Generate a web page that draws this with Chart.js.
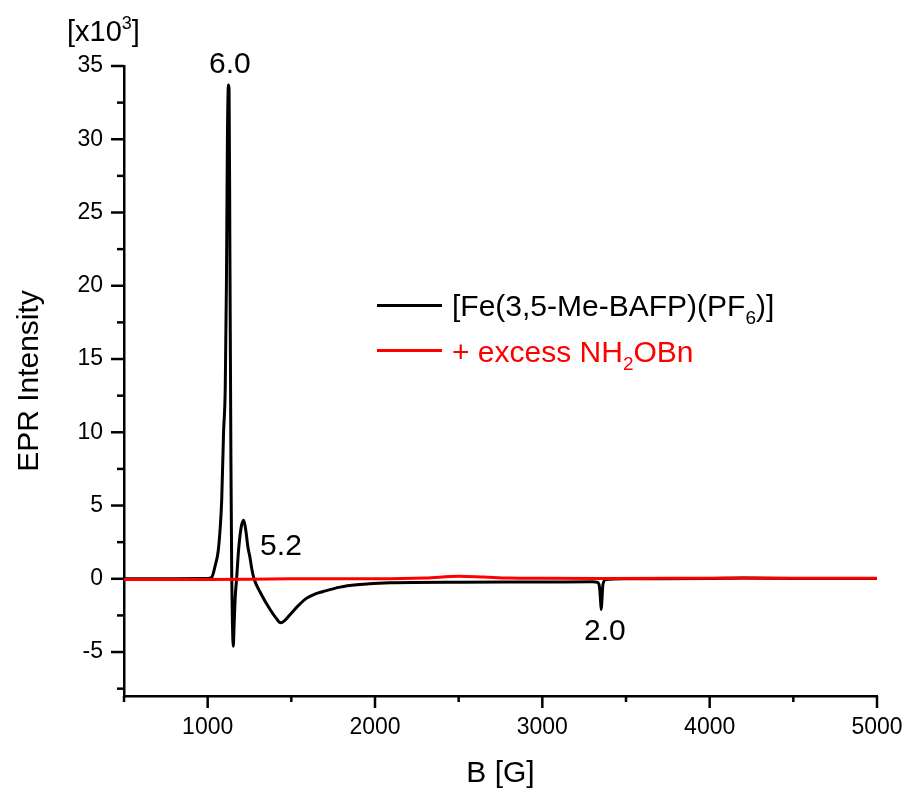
<!DOCTYPE html>
<html>
<head>
<meta charset="utf-8">
<script src="https://cdn.jsdelivr.net/npm/chart.js@4/dist/chart.umd.min.js"></script>
<style>
  html, body { margin: 0; padding: 0; background: #fff; }
  #wrap { position: relative; width: 909px; height: 792px; font-family: "Liberation Sans", Arial, sans-serif; }
  canvas { position: absolute; left: 0; top: 0; }
  .txt { position: absolute; white-space: nowrap; line-height: 1; }
  .swatch { position: absolute; height: 3px; }
</style>
</head>
<body>
<div id="wrap">
  <canvas id="c" width="909" height="792"></canvas>
  <div class="txt" style="left:67px; top:17px; font-size:29px; color:#000;">[x10<span style="font-size:18px; position:relative; top:-12px;">3</span>]</div>
  <div class="swatch" style="left:377px; top:304px; width:65px; background:#000;"></div>
  <div class="txt" style="left:452px; top:291px; font-size:30px; color:#000;">[Fe(3,5-Me-BAFP)(PF<span style="font-size:19px; position:relative; top:8px;">6</span>)]</div>
  <div class="swatch" style="left:377px; top:349px; width:65px; background:#ff0000;"></div>
  <div class="txt" style="left:452px; top:337px; font-size:30px; color:#ff0000;">+ excess NH<span style="font-size:19px; position:relative; top:8px;">2</span>OBn</div>
</div>
<script>
// ---- data (B in G, intensity in x10^3) ----
const blackB = [500, 800, 1000, 1024, 1045, 1063, 1075, 1084, 1095, 1105, 1112, 1118, 1124, 1128, 1133, 1139, 1144, 1148, 1153, 1158, 1165, 1173, 1185, 1200, 1215, 1228, 1240, 1252, 1265, 1277, 1313, 1373, 1410, 1436, 1460, 1492, 1540, 1592, 1640, 1691, 1791, 1891, 2090, 2500, 3000, 3300, 3330, 3342, 3348, 3352, 3356, 3362, 3380, 3500, 4000, 4200, 4500, 5000];
const blackI = [0, 0, 0.02, 0.1, 0.9, 1.9, 3.5, 5.4, 10, 13, 20, 30, 33.7, 33.4, 22, 8, 0, -3, -4.6, -3.2, -1.2, 0, 2, 3.5, 4.0, 3.3, 2.2, 1.5, 0.6, 0, -0.9, -2.1, -2.7, -3.0, -2.85, -2.45, -1.85, -1.32, -1.05, -0.87, -0.57, -0.41, -0.27, -0.23, -0.22, -0.2, -0.25, -0.6, -1.5, -2.1, -1.5, -0.4, -0.05, 0, 0.02, 0.05, 0.02, 0.02];
const redB = [500, 1000, 1500, 2000, 2300, 2500, 2650, 2800, 3000, 3350, 3800, 4200, 4600, 5000];
const redI = [-0.05, -0.05, 0, 0, 0.05, 0.18, 0.12, 0.05, 0.03, 0.02, 0.03, 0.05, 0.03, 0.03];
const seriesNames = ['[Fe(3,5-Me-BAFP)(PF6)]', '+ excess NH2OBn'];
const xTickValues = [500, 1000, 1500, 2000, 2500, 3000, 3500, 4000, 4500, 5000];
const xTickLabels = ['', '1000', '', '2000', '', '3000', '', '4000', '', '5000'];
const yTickValues = [-7.5, -5, -2.5, 0, 2.5, 5, 7.5, 10, 12.5, 15, 17.5, 20, 22.5, 25, 27.5, 30, 32.5, 35];
const yTickLabels = ['', '-5', '', '0', '', '5', '', '10', '', '15', '', '20', '', '25', '', '30', '', '35'];
const peakLabels = ['6.0', '5.2', '2.0'];
const peakB = [1133, 1438, 3374];
const peakI = [34.5, 1.65, -4.15];

const FONT = '"Liberation Sans", Arial, sans-serif';

const tickMarks = {
  id: 'tickMarks',
  afterDraw(chart) {
    const ctx = chart.ctx, a = chart.chartArea;
    ctx.save();
    ctx.strokeStyle = '#000';
    ctx.lineWidth = 2.5;
    const xs = chart.scales.x, ys = chart.scales.y;
    xTickValues.forEach((v, i) => {
      const p = xs.getPixelForValue(v);
      const len = xTickLabels[i] ? 12 : 6;
      ctx.beginPath(); ctx.moveTo(p, a.bottom); ctx.lineTo(p, a.bottom + len); ctx.stroke();
    });
    yTickValues.forEach((v, i) => {
      const p = ys.getPixelForValue(v);
      const len = yTickLabels[i] ? 13 : 7;
      ctx.beginPath(); ctx.moveTo(a.left - len, p); ctx.lineTo(a.left, p); ctx.stroke();
    });
    ctx.fillStyle = '#000';
    ctx.font = '30px ' + FONT;
    ctx.textAlign = 'center';
    ctx.textBaseline = 'alphabetic';
    peakLabels.forEach((t, i) => {
      ctx.fillText(t, xs.getPixelForValue(peakB[i]), ys.getPixelForValue(peakI[i]));
    });
    ctx.restore();
  }
};

new Chart(document.getElementById('c'), {
  type: 'line',
  data: {
    datasets: [
      { label: seriesNames[0], data: blackB.map((b, i) => ({ x: b, y: blackI[i] })), borderColor: '#000000', borderWidth: 3, pointRadius: 0, cubicInterpolationMode: 'monotone', order: 2 },
      { label: seriesNames[1], data: redB.map((b, i) => ({ x: b, y: redI[i] })), borderColor: '#ff0000', borderWidth: 3, pointRadius: 0, cubicInterpolationMode: 'monotone', order: 1 }
    ]
  },
  options: {
    responsive: false,
    animation: false,
    devicePixelRatio: 1,
    layout: { padding: { top: 66, right: 32, left: 0, bottom: 0 } },
    plugins: { legend: { display: false }, tooltip: { enabled: false } },
    scales: {
      x: {
        type: 'linear', position: 'bottom', min: 500, max: 5000,
        afterBuildTicks: s => { s.ticks = xTickValues.map(v => ({ value: v })); },
        afterFit: s => { s.height = 96; s.paddingRight = 0; s.paddingLeft = 0; },
        grid: { display: false, drawTicks: false },
        border: { display: true, color: '#000', width: 2.5 },
        ticks: { autoSkip: false, maxRotation: 0, padding: 18, color: '#000', font: { family: FONT, size: 23 },
          callback: (v) => { const i = xTickValues.indexOf(v); return i >= 0 ? xTickLabels[i] : ''; } },
        title: { display: true, text: 'B [G]', color: '#000', font: { family: FONT, size: 30 }, padding: { top: 0, bottom: 0 } }
      },
      y: {
        type: 'linear', position: 'left', min: -8, max: 35,
        afterBuildTicks: s => { s.ticks = yTickValues.map(v => ({ value: v })); },
        afterFit: s => { s.width = 124; s.paddingTop = 0; s.paddingBottom = 0; },
        grid: { display: false, drawTicks: false },
        border: { display: true, color: '#000', width: 2.5 },
        ticks: { autoSkip: false, padding: 21, color: '#000', font: { family: FONT, size: 23 },
          callback: (v) => { const i = yTickValues.indexOf(v); return i >= 0 ? yTickLabels[i] : ''; } },
        title: { display: true, text: 'EPR Intensity', color: '#000', font: { family: FONT, size: 30 }, padding: { top: 12, bottom: 0 } }
      }
    }
  },
  plugins: [tickMarks]
});
</script>
</body>
</html>
